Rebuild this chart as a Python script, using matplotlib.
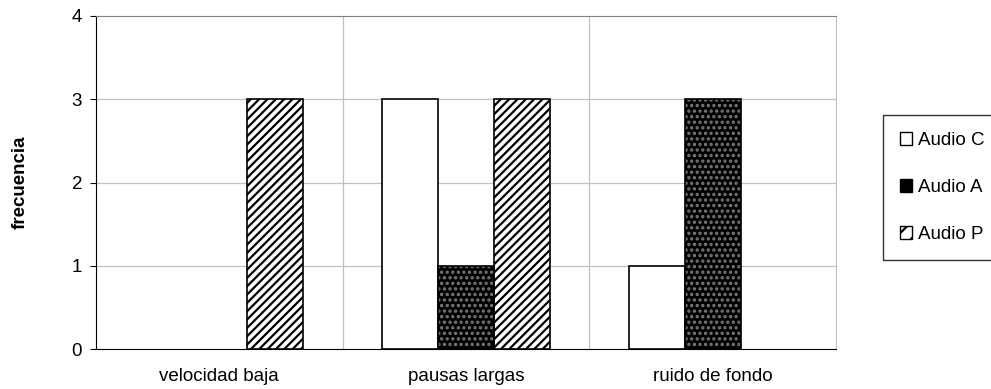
import matplotlib.pyplot as plt
import numpy as np
from matplotlib.patches import Patch

plt.rcParams['font.family'] = ['Liberation Sans', 'DejaVu Sans']
plt.rcParams['hatch.linewidth'] = 1.6

categories = ['velocidad baja', 'pausas largas', 'ruido de fondo']
audio_c = np.array([0, 3, 1])
audio_a = np.array([0, 1, 3])
audio_p = np.array([3, 3, 0])
labels = ['Audio C', 'Audio A', 'Audio P']

FS = 13.5

fig = plt.figure(figsize=(9.91, 3.89), dpi=100)
ax = fig.add_axes([96 / 991, 40 / 389, 740 / 991, 333 / 389])

x = np.arange(len(categories))
w = 0.227


def draw(offset, vals, **kw):
    # skip empty bars so no flat outline is drawn on the axis
    keep = vals > 0
    return ax.bar(x[keep] + offset, vals[keep], w, **kw)


draw(-w, audio_c, facecolor='white', edgecolor='black', linewidth=1.2, zorder=3)
# dark dotted bars: black fill with light dots, then a black outline
draw(0, audio_a, facecolor='black', edgecolor='#7a7a7a', hatch='...', linewidth=0, zorder=3)
draw(0, audio_a, facecolor='none', edgecolor='black', linewidth=1.2, zorder=4)
draw(w, audio_p, facecolor='white', edgecolor='black', hatch='////', linewidth=1.2, zorder=3)

ax.set_xlim(-0.5, 2.5)
ax.set_ylim(0, 4)
ax.set_yticks([0, 1, 2, 3, 4])
ax.set_xticks(x)
ax.set_xticklabels(categories, fontsize=FS)
ax.tick_params(axis='y', labelsize=FS, length=4, pad=6, direction='out')
ax.tick_params(axis='x', length=0, pad=14)

# grid: horizontal at each tick, vertical between categories
for yv in [1, 2, 3]:
    ax.axhline(yv, color='#c0c0c0', linewidth=0.9, zorder=1)
for xv in [0.5, 1.5]:
    ax.axvline(xv, color='#c0c0c0', linewidth=0.9, zorder=1)

ax.spines['top'].set_color('#808080')
ax.spines['right'].set_color('#c0c0c0')
ax.spines['left'].set_color('black')
ax.spines['bottom'].set_color('black')

ax.set_ylabel('frecuencia', fontsize=FS, fontweight='bold', labelpad=31)

handles = [
    Patch(facecolor='white', edgecolor='black'),
    Patch(facecolor='black', edgecolor='black'),
    Patch(facecolor='white', edgecolor='black', hatch='//'),
]
# frame runs past the right edge of the figure, as in the original
leg = fig.legend(handles, labels, loc='upper left', mode='expand',
                 bbox_to_anchor=(883 / 991, 1 - 115 / 389, 0.2, 0), fontsize=FS,
                 frameon=True, fancybox=False, edgecolor='black',
                 handlelength=0.65, handleheight=0.65, handletextpad=0.3,
                 labelspacing=1.6, borderpad=0.9, borderaxespad=0)
leg.get_frame().set_linewidth(1.0)

fig.savefig('out.png', dpi=100)
